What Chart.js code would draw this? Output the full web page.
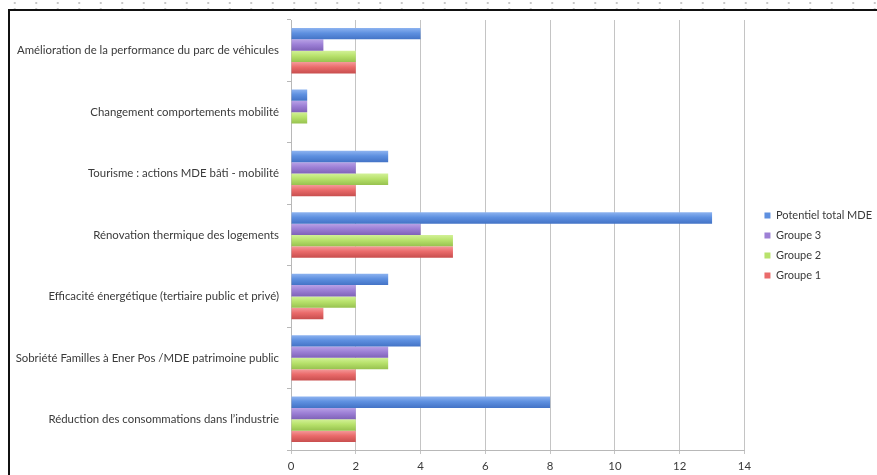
<!DOCTYPE html>
<html>
<head>
<meta charset="utf-8">
<script src="https://cdn.jsdelivr.net/npm/chart.js@4"></script>
<style>
  html, body { margin: 0; padding: 0; }
  body {
    width: 877px; height: 475px; overflow: hidden; position: relative;
    background-color: #fff;
    background-image: radial-gradient(circle, #c8c8c8 0.8px, transparent 1.2px);
    background-size: 21.5px 6px;
    background-position: 4px 0;
  }
  #cadre {
    position: absolute; left: 8px; top: 9px; width: 900px; height: 500px;
    border-left: 2px solid #111; border-top: 2px solid #111; background: #fff;
  }
  #wrap { position: absolute; left: 0; top: 0; width: 877px; height: 475px; }
</style>
</head>
<body>
<div id="cadre"></div>
<div id="wrap"><canvas id="graphique"></canvas></div>
<script>
// Catégories (de haut en bas)
var categories = [
  'Amélioration de la performance du parc de véhicules',
  'Changement comportements mobilité',
  'Tourisme : actions MDE bâti - mobilité',
  'Rénovation thermique des logements',
  'Efficacité énergétique (tertiaire public et privé)',
  'Sobriété Familles à Ener Pos /MDE patrimoine public',
  'Réduction des consommations dans l\u2019industrie'
];
var potentielTotal = [4, 0.5, 3, 13, 3, 4, 8];
var groupe3 = [1, 0.5, 2, 4, 2, 3, 2];
var groupe2 = [2, 0.5, 3, 5, 2, 3, 2];
var groupe1 = [2, 0, 2, 5, 1, 2, 2];
var ticksX = [0, 2, 4, 6, 8, 10, 12, 14];

var police = 'Lato, "Open Sans", sans-serif';
var texte = '#3a3a3a';
var partCategorie = 0.74;

// dégradé vertical façon Excel 2007 (clair en haut, foncé en bas)
function degrade(clair, base, fonce) {
  return function(context) {
    var chart = context.chart;
    var y = chart.scales && chart.scales.y;
    if (!chart.chartArea || !y || context.dataIndex === undefined) return base;
    var nb = chart.data.datasets.length;
    var largeur = (y.bottom - y.top) / chart.data.labels.length * partCategorie;
    var h = largeur / nb;
    var haut = y.getPixelForValue(context.dataIndex) - largeur / 2 + context.datasetIndex * h;
    var g = chart.ctx.createLinearGradient(0, haut, 0, haut + h);
    g.addColorStop(0, clair);
    g.addColorStop(0.45, base);
    g.addColorStop(1, fonce);
    return g;
  };
}

// décale la légende vers la droite (écart avec la zone de tracé)
var decalLegende = {
  id: 'decalLegende',
  afterInit: function(chart) {
    var leg = chart.legend;
    if (!leg) return;
    var fit = leg.fit, draw = leg.draw;
    leg.fit = function() { fit.call(this); this.width += 6; };
    leg.draw = function() {
      var c = this.ctx;
      c.save();
      c.translate(11, -2);
      draw.apply(this, arguments);
      c.restore();
    };
  }
};

var ctx = document.getElementById('graphique').getContext('2d');
new Chart(ctx, {
  type: 'bar',
  data: {
    labels: categories,
    datasets: [
      { label: 'Potentiel total MDE', data: potentielTotal, backgroundColor: degrade('#8db3f0', '#5e90e0', '#4373c6') },
      { label: 'Groupe 3', data: groupe3, backgroundColor: degrade('#b9a2e6', '#9d80d6', '#7f62b8') },
      { label: 'Groupe 2', data: groupe2, backgroundColor: degrade('#d2f197', '#b8e26c', '#97c24f') },
      { label: 'Groupe 1', data: groupe1, backgroundColor: degrade('#f49a9a', '#ea6b6b', '#c84e4e') }
    ]
  },
  options: {
    indexAxis: 'y',
    responsive: true,
    maintainAspectRatio: false,
    animation: false,
    datasets: { bar: { categoryPercentage: partCategorie, barPercentage: 1.0 } },
    layout: { padding: { left: 10, top: 20, right: 0, bottom: 0 } },
    plugins: {
      tooltip: { enabled: false },
      legend: {
        position: 'right',
        align: 'center',
        labels: {
          boxWidth: 6, boxHeight: 6, padding: 9,
          color: texte,
          generateLabels: function(chart) {
            var couleurs = ['#5e90e0', '#9d80d6', '#b8e26c', '#ea6b6b'];
            return chart.data.datasets.map(function(ds, i) {
              return { text: ds.label, fillStyle: couleurs[i], strokeStyle: couleurs[i], lineWidth: 0, datasetIndex: i, fontColor: texte };
            });
          },
          font: { family: police, size: 11 }
        }
      }
    },
    scales: {
      x: {
        min: 0, max: 14,
        afterBuildTicks: function(axis) { axis.ticks = ticksX.map(function(v) { return { value: v }; }); },
        afterFit: function(axis) { axis.height = 25; },
        grid: { color: '#c4c4c4', lineWidth: 1, tickLength: 4 },
        border: { color: '#b8b8b8' },
        ticks: { color: texte, font: { family: police, size: 11.4 }, padding: 5 }
      },
      y: {
        afterFit: function(axis) { axis.width = 281; },
        grid: { offset: true, drawOnChartArea: false, tickLength: 4, color: '#b8b8b8' },
        border: { color: '#b8b8b8' },
        ticks: { color: texte, font: { family: police, size: 11.4 }, padding: 8 }
      }
    }
  },
  plugins: [decalLegende]
});
</script>
</body>
</html>
